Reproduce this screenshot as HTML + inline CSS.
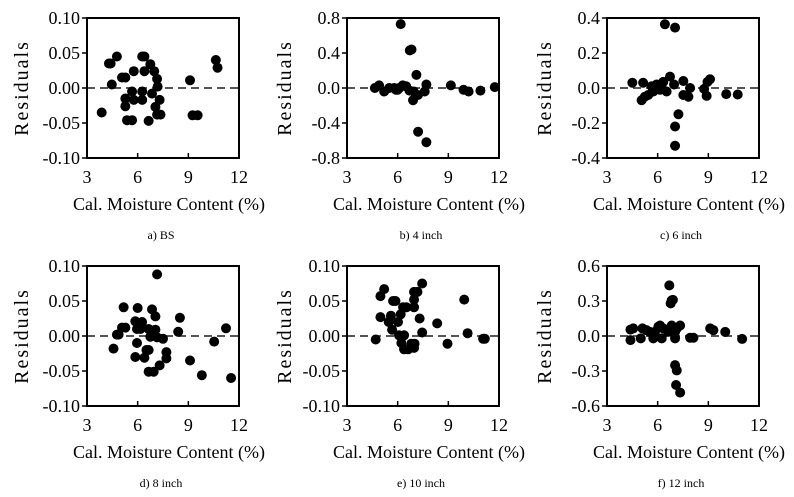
<!DOCTYPE html>
<html><head><meta charset="utf-8"><style>
html,body{margin:0;padding:0;background:#fff;font-family:"Liberation Serif","Times New Roman",serif}
svg{display:block}
</style></head><body>
<svg id="chart" width="794" height="497" viewBox="0 0 794 497"></svg>
<script>
const xTicks=[3,6,9,12];
const captions=["a) BS","b) 4 inch","c) 6 inch","d) 8 inch","e) 10 inch","f) 12 inch"];
const yTicksA=["0.10","0.05","0.00","-0.05","-0.10"];
const yTicksB=["0.8","0.4","0.0","-0.4","-0.8"];
const yTicksC=["0.4","0.2","0.0","-0.2","-0.4"];
const yTicksD=["0.10","0.05","0.00","-0.05","-0.10"];
const yTicksE=["0.10","0.05","0.00","-0.05","-0.10"];
const yTicksF=["0.6","0.3","0.0","-0.3","-0.6"];
const xA=[3.87,4.3,4.4,4.47,4.77,5.07,5.27,5.27,5.27,5.37,5.67,5.67,5.77,5.77,6.27,6.27,6.27,6.4,6.4,6.65,6.75,6.85,6.98,7.15,7.18,7.05,7.15,7.35,7.3,9.1,9.25,9.55,10.63,10.73];
const yA=[-0.035,0.035,0.035,0.005,0.045,0.015,0.015,-0.015,-0.026,-0.046,-0.046,-0.005,0.024,-0.017,-0.005,-0.017,0.045,0.045,0.024,-0.047,0.034,-0.008,0.024,0.013,0.002,-0.027,-0.038,-0.038,-0.017,0.011,-0.039,-0.039,0.04,0.029];
const xB=[6.18,6.72,6.82,7.11,7.21,7.7,6.91,4.65,4.9,5.2,5.5,5.8,5.9,6.0,6.1,6.3,6.5,6.7,6.95,7.2,7.6,7.7,9.15,9.9,10.2,10.9,11.75];
const yB=[0.73,0.43,0.44,0.15,-0.5,-0.62,-0.14,0.0,0.03,-0.04,0.0,0.0,-0.02,-0.02,0.0,0.03,0.02,-0.03,-0.04,-0.08,-0.04,0.04,0.03,-0.02,-0.04,-0.03,0.01];
const xC=[6.43,7.03,4.5,5.14,5.05,5.24,5.44,5.74,5.64,5.94,6.24,6.33,6.53,6.73,6.97,7.52,7.52,7.82,7.92,7.23,7.03,7.03,8.75,8.95,9.1,8.9,10.06,10.74,6.14];
const yC=[0.364,0.345,0.03,0.03,-0.07,-0.05,-0.04,-0.02,0.01,0.02,0,0.035,-0.02,0.065,0.02,0.04,-0.04,-0.05,0,-0.15,-0.22,-0.33,-0.005,0.035,0.05,-0.045,-0.035,-0.037,-0.01];
const xD=[7.15,4.57,4.77,4.87,5.07,5.27,5.17,5.86,5.86,5.96,6.0,5.96,6.16,6.26,6.4,6.52,6.65,6.65,6.95,6.65,6.75,6.85,7.05,7.05,7.15,7.3,7.5,7.7,7.7,8.4,8.5,9.1,9.8,10.53,11.23,11.53];
const yD=[0.088,-0.018,0.002,0.002,0.012,0.012,0.041,0.021,-0.03,-0.01,0.04,0.01,0.01,0.02,-0.031,-0.02,-0.02,-0.051,-0.051,0.01,-0.001,0.038,0.028,0.009,-0.002,-0.042,-0.004,-0.023,-0.032,0.006,0.026,-0.035,-0.056,-0.008,0.011,-0.06];
const xE=[4.7,4.98,4.98,5.2,5.47,5.6,5.67,5.73,5.87,6.02,6.18,6.08,6.22,6.32,6.52,6.38,6.38,6.62,6.81,7.0,6.97,6.97,6.97,7.17,6.97,7.3,7.45,7.45,8.34,8.95,9.94,10.14,11.06,11.16];
const yE=[-0.005,0.057,0.027,0.067,0.02,0.029,0.009,0.05,0.05,0.02,0.031,0.001,-0.01,0.041,0.041,0.001,-0.019,-0.019,-0.011,-0.011,0.041,0.052,0.063,0.063,-0.017,0.025,0.075,0.005,0.018,-0.011,0.052,0.004,-0.004,-0.004];
const xF=[6.69,6.77,6.83,6.9,4.39,4.39,4.55,5.0,5.1,5.34,5.54,5.74,5.84,6.04,6.14,6.24,6.33,6.63,6.83,7.03,7.03,7.13,7.33,7.03,7.13,7.09,7.33,7.92,8.12,9.11,9.3,10.0,11.0];
const yF=[0.434,0.28,0.305,0.31,0.055,-0.035,0.065,-0.02,0.065,0.05,0.035,-0.02,0.035,0.08,0.09,-0.02,0.065,0.035,0.09,0.035,-0.02,0.065,0.09,-0.25,-0.295,-0.42,-0.485,-0.015,-0.015,0.065,0.05,0.035,-0.025];
const yMax=[0.1,0.8,0.4,0.1,0.1,0.6];
const panels=[
 {L:87,T:18,yt:yTicksA,xs:xA,ys:yA,lab:22},
 {L:347,T:18,yt:yTicksB,xs:xB,ys:yB,lab:285},
 {L:607,T:18,yt:yTicksC,xs:xC,ys:yC,lab:545},
 {L:87,T:266,yt:yTicksD,xs:xD,ys:yD,lab:22},
 {L:347,T:266,yt:yTicksE,xs:xE,ys:yE,lab:285},
 {L:607,T:266,yt:yTicksF,xs:xF,ys:yF,lab:545}];
const NS="http://www.w3.org/2000/svg";
const svg=document.getElementById('chart');
function mk(t,a,p){const e=document.createElementNS(NS,t);for(const k in a)e.setAttribute(k,a[k]);if(t==='text')e.style.fontFamily='"Liberation Serif","Times New Roman","DejaVu Serif",serif';(p||svg).appendChild(e);return e;}
const W=152,H=140;
panels.forEach((p,i)=>{
 const g=mk('g',{});
 
 
 const ym=yMax[i];
 const sx=v=>p.L+(v-3)/9*W;
 const sy=v=>p.T+(ym-v)/(2*ym)*H;
 const z=mk('line',{x1:p.L,x2:p.L+W,y1:sy(0),y2:sy(0),stroke:'#555','stroke-width':2,'stroke-dasharray':'8,5'},g);
 
 
 p.xs.forEach((x,j)=>{
  const c=mk('circle',{cx:sx(x),cy:sy(p.ys[j]),r:5,fill:'#000'},g);
  
  
 });
 const fr=mk('rect',{x:p.L,y:p.T,width:W,height:H,fill:'none',stroke:'#000','stroke-width':2},g);
 
 
 xTicks.forEach(t=>{
  mk('line',{x1:sx(t),x2:sx(t),y1:p.T+H,y2:p.T+H-5,stroke:'#000','stroke-width':1.5},g);
  const tx=mk('text',{x:sx(t),y:p.T+H+25,'text-anchor':'middle','font-size':18},g);
  tx.textContent=t;
  
  
 });
 p.yt.forEach((t,k)=>{
  const y=p.T+k*H/4;
  mk('line',{x1:p.L,x2:p.L-5,y1:y,y2:y,stroke:'#000','stroke-width':1.5},g);
  const ty=mk('text',{x:p.L-7,y:y+6,'text-anchor':'end','font-size':18},g);
  ty.textContent=t;
  
  
 });
 const yl=mk('text',{x:p.lab,y:p.T+H/2,'text-anchor':'middle','font-size':20,'letter-spacing':2,transform:`rotate(-90 ${p.lab} ${p.T+H/2})`,dy:6},g);
 yl.textContent='Residuals';
 
 
 const xl=mk('text',{x:p.L+W/2+6,y:p.T+H+52,'text-anchor':'middle','font-size':18},g);
 xl.textContent='Cal. Moisture Content (%)';
 
 
 const cp=mk('text',{x:p.L+W/2-2,y:p.T+H+81,'text-anchor':'middle','font-size':12},g);
 cp.textContent=captions[i];
 
 
});
</script>
</body></html>
